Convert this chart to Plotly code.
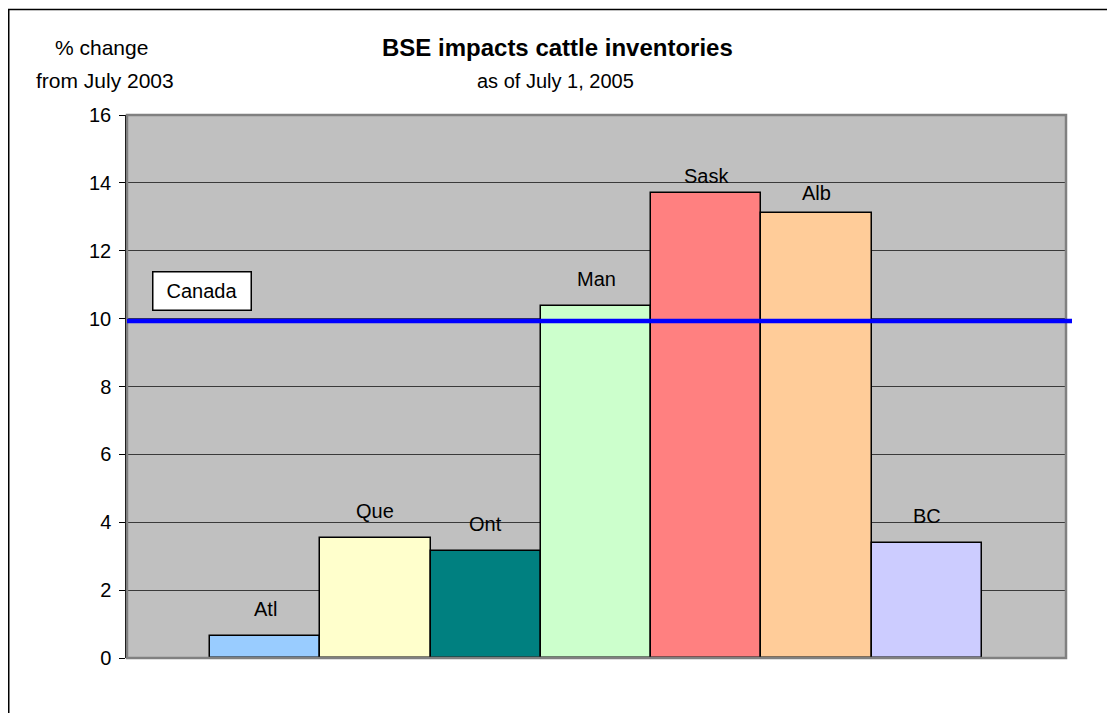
import plotly.graph_objects as go

# ---- data ----
regions = ["Atl", "Que", "Ont", "Man", "Sask", "Alb", "BC"]
pct_change = [0.65, 3.55, 3.14, 10.37, 13.69, 13.10, 3.39]
canada_avg = 9.93
title_text = "BSE impacts cattle inventories"
subtitle_text = "as of July 1, 2005"
ylabel_lines = ["% change", "from July 2003"]
y_ticks = [0, 2, 4, 6, 8, 10, 12, 14, 16]

# ---- style ----
bar_colors = ["#99CCFF", "#FFFFCC", "#008080", "#CCFFCC", "#FF8080", "#FFCC99", "#CCCCFF"]
label_shift = {"Sask": 17, "Alb": 20}
OFF = 8  # browser body margin
PAGE_W, PAGE_H = 1115, 713
W, H = PAGE_W - OFF, PAGE_H - OFF
PL, PR, PT, PB = 127, 1066, 115, 658  # plot area in page pixels
L, T = PL - OFF, PT - OFF
R, B = W - (PR - OFF), H - (PB - OFF)
pw, ph = W - L - R, H - T - B
FONT = "Liberation Sans, Arial, sans-serif"

def px(xp):
    return (xp - PL) / pw

def py(yp):
    return (PB - yp) / ph

xs = list(range(len(regions)))

fig = go.Figure()
fig.add_trace(go.Bar(
    x=xs, y=pct_change, width=1.0,
    marker=dict(color=bar_colors, line=dict(color="black", width=1.5)),
    hoverinfo="skip", showlegend=False,
))

annotations = []
for i, (name, v) in enumerate(zip(regions, pct_change)):
    annotations.append(dict(
        x=i, y=v, xref="x", yref="y", text=name, showarrow=False,
        yanchor="middle", yshift=label_shift.get(name, 27),
        font=dict(family=FONT, size=20, color="black"),
    ))

annotations += [
    dict(x=px(557), y=py(47), xref="paper", yref="paper", text="<b>" + title_text + "</b>",
         showarrow=False, xanchor="center", yanchor="middle",
         font=dict(family=FONT, size=24, color="black")),
    dict(x=px(555), y=py(81), xref="paper", yref="paper", text=subtitle_text,
         showarrow=False, xanchor="center", yanchor="middle",
         font=dict(family=FONT, size=20, color="black")),
    dict(x=px(101), y=py(47), xref="paper", yref="paper", text=ylabel_lines[0],
         showarrow=False, xanchor="center", yanchor="middle",
         font=dict(family=FONT, size=21, color="black")),
    dict(x=px(105), y=py(81), xref="paper", yref="paper", text=ylabel_lines[1],
         showarrow=False, xanchor="center", yanchor="middle",
         font=dict(family=FONT, size=21, color="black")),
    dict(x=px(202), y=py(290.5), xref="paper", yref="paper", text="Canada",
         showarrow=False, xanchor="center", yanchor="middle",
         width=97, height=37, borderpad=0, bgcolor="white",
         bordercolor="black", borderwidth=1.5,
         font=dict(family=FONT, size=20, color="black")),
]

shapes = [
    # outer frame
    dict(type="rect", xref="paper", yref="paper",
         x0=px(8.75), y0=py(9.5), x1=px(PAGE_W + 20), y1=py(PAGE_H + 20),
         line=dict(color="black", width=1.5), fillcolor="rgba(0,0,0,0)", layer="below"),
    # plot area border (gray)
    dict(type="rect", xref="paper", yref="paper", x0=0, y0=0, x1=1, y1=1,
         line=dict(color="#808080", width=2.5), fillcolor="rgba(0,0,0,0)", layer="above"),
    # Canada line
    dict(type="line", xref="paper", yref="y", x0=0, x1=px(1072),
         y0=canada_avg, y1=canada_avg, line=dict(color="#0000FF", width=4.5), layer="above"),
]

x_left = -(265 - PL) / 110.3
x_right = len(regions) - 1 + (PR - 927) / 110.3

fig.update_layout(
    width=W, height=H,
    margin=dict(l=L, r=R, t=T, b=B, pad=0),
    paper_bgcolor="white", plot_bgcolor="#C0C0C0",
    annotations=annotations, shapes=shapes,
    bargap=0,
    xaxis=dict(range=[x_left, x_right], showticklabels=False, showgrid=False,
               zeroline=False, ticks="", showline=False, fixedrange=True),
    yaxis=dict(range=[0, 16], tickvals=y_ticks, ticks="outside", ticklen=6,
               tickcolor="black", tickwidth=1, showline=True, linecolor="black",
               linewidth=1.5, showgrid=True, gridcolor="#3a3a3a", gridwidth=1,
               zeroline=False, ticklabelstandoff=4,
               tickfont=dict(family=FONT, size=20, color="black")),
)

fig.write_html("out.html")
